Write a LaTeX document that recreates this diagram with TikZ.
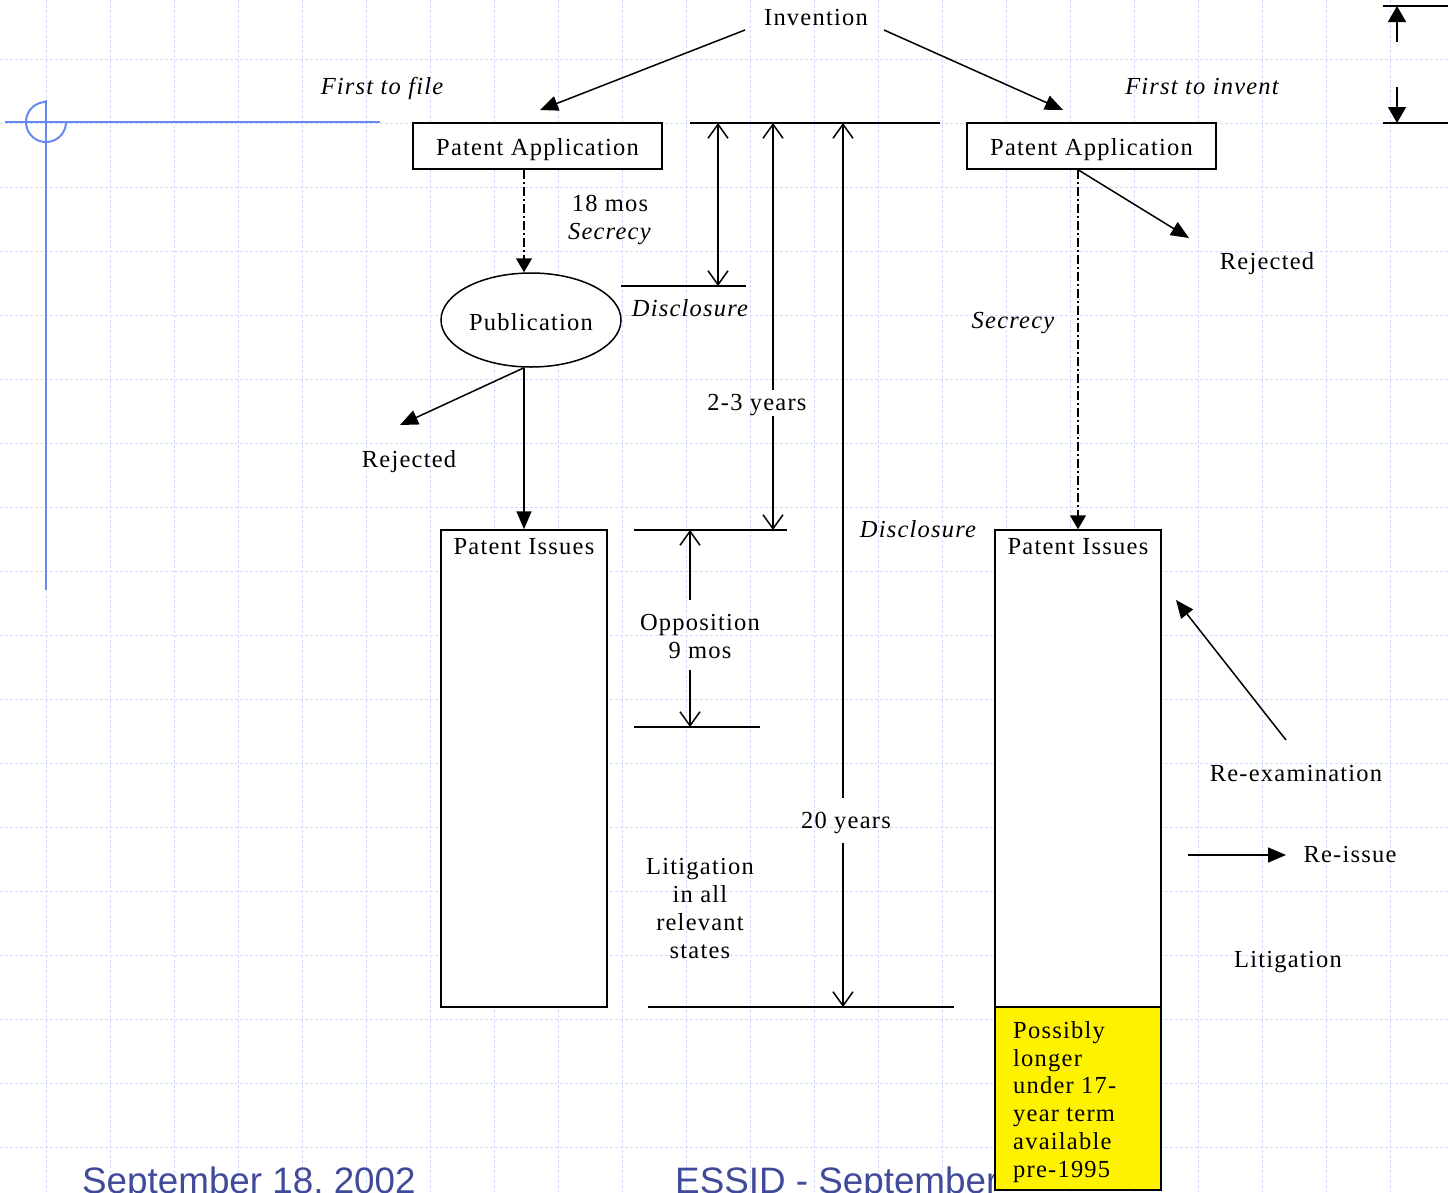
\documentclass[tikz,border=0pt]{standalone}
\usepackage{fontspec}
\setmainfont{Liberation Serif}[LetterSpace=5]
\newfontfamily\footfont{Liberation Sans}
\usetikzlibrary{arrows.meta,shapes.geometric}
\definecolor{gridc}{RGB}{210,219,250}
\definecolor{crossc}{RGB}{104,136,240}
\definecolor{footc}{RGB}{64,74,152}
\tikzset{vb/.tip={Straight Barb[length=14pt,width=20pt]}}
\begin{document}
\begin{tikzpicture}[x=1pt,y=-1pt,
  every node/.style={font=\fontsize{24.5}{28}\selectfont, inner sep=0pt},
  ln/.style={line width=1.5pt},
  gridline/.style={gridc, line width=0.9pt, dash pattern=on 3pt off 2pt},
  fa/.style={ln,-{Triangle[length=18pt,width=15pt]}},
  fb/.style={ln,-{Triangle[length=14pt,width=16pt]}},
  dashdot/.style={dash pattern=on 9pt off 3pt on 2pt off 3pt},
  box/.style={draw, ln, fill=white, minimum width=249pt, minimum height=46pt, text height=18pt, text depth=0pt},
  tallbox/.style={draw, ln, fill=white, minimum width=166pt, minimum height=477pt},
  lbl/.style={anchor=base},
  ilbl/.style={anchor=base, font=\fontsize{24.5}{28}\selectfont\itshape}
]
\useasboundingbox (0,0) rectangle (1448,1192);
\clip (0,0) rectangle (1448,1192);
% grid
\foreach \gx in {46,110,...,1446} \draw[gridline] (\gx,0) -- (\gx,1192);
\foreach \gy in {59.5,123.5,...,1190} \draw[gridline] (0,\gy) -- (1448,\gy);
% crosshair
\draw[crossc, line width=2pt] (5,122) -- (380,122);
\draw[crossc, line width=2pt] (46,100) -- (46,590);
\draw[crossc, line width=2pt] plot[domain=90:360, samples=50] ({46+20*cos(\x)}, {122-20*sin(\x)});
% footer
\node[anchor=base west, font=\footfont\fontsize{36.8}{40}\selectfont, text=footc] (date) at (82,1193) {September 18, 2002};
\node[anchor=base west, font=\footfont\fontsize{36.8}{40}\selectfont, text=footc] (essid) at (675,1193) {ESSID - September};

% top
\node[lbl] (inv) at (816,25) {Invention};
\node[ilbl] (ftf) at (382,94) {First to file};
\node[ilbl] (fti) at (1202,94) {First to invent};
\node[box] (pa1) at (537.5,146) {Patent Application};
\node[box] (pa2) at (1091.5,146) {Patent Application};
\coordinate (invL) at (745,30);
\coordinate (invR) at (884,30);
\coordinate (t1) at (540,110);
\coordinate (t2) at (1063,110);
\draw[fa] (invL) -- (t1);
\draw[fa] (invR) -- (t2);

% left column
\node[draw, ln, fill=white, ellipse, minimum width=180pt, minimum height=94pt, text height=20pt, text depth=0pt] (pub) at (531,320) {Publication};
\node[tallbox] (pi1) at (524,768.5) {};
\node[lbl] (pi1t) at (524,554) {Patent Issues};
\draw[fb, dashdot] (pa1.south -| pi1.north) -- (pub.north -| pi1.north);
\draw[fa] (pub.south -| pi1.north) -- (pi1.north);
\coordinate (rejL) at (400,425);
\draw[fa] (pub.south -| pi1.north) -- (rejL);
\node[lbl] (rej1) at (409,467) {Rejected};
\node[anchor=north, align=center] (mos18) at (610,195) {18 mos\\\textit{Secrecy}};

% timeline
\draw[ln] (690,123) -- (940,123);
\draw[ln] (621,286) -- (746,286);
\draw[ln] (634,530) -- (787,530);
\draw[ln] (634,727) -- (760,727);
\draw[ln] (648,1007) -- (954,1007);
\draw[ln, {vb}-{vb}] (718,123) -- (718,286);
\draw[ln, {vb}-] (773,123) -- (773,390);
\draw[ln, -{vb}] (773,416) -- (773,530);
\draw[ln, {vb}-] (843,123) -- (843,798);
\draw[ln, -{vb}] (843,843) -- (843,1007);
\draw[ln, {vb}-] (690,530) -- (690,600);
\draw[ln, -{vb}] (690,670) -- (690,727);
\node[ilbl] (disc1) at (690,316) {Disclosure};
\node[lbl] (y23) at (757,410) {2-3 years};
\node[ilbl] (disc2) at (918,537) {Disclosure};
\node[anchor=north, align=center] (opp) at (700,614) {Opposition\\9 mos};
\node[lbl] (y20) at (846,828) {20 years};
\node[anchor=north, align=center] (litall) at (700,858) {Litigation\\in all\\relevant\\states};

% right column
\node[tallbox] (pi2) at (1078,768.5) {};
\node[lbl] (pi2t) at (1078,554) {Patent Issues};
\node[draw, ln, fill=yellow, minimum width=166pt, minimum height=183pt] (yl) at (1078,1098.5) {};
\node[anchor=north west, align=left, font=\fontsize{24.5}{27.8}\selectfont] (ylt) at (1013,1021) {Possibly\\longer\\under 17-\\year term\\available\\pre-1995};
\draw[fb, dashdot] (pa2.south -| pi2.north) -- (pi2.north);
\coordinate (rejR) at (1189,238);
\draw[fa] (pa2.south -| pi2.north) -- (rejR);
\node[ilbl] (sec2) at (1013,328) {Secrecy};
\node[lbl] (rej2) at (1267,269) {Rejected};
\coordinate (reexS) at (1286,740);
\coordinate (reexT) at (1176,600);
\draw[fa] (reexS) -- (reexT);
\node[lbl] (reex) at (1296,781) {Re-examination};
\coordinate (riS) at (1188,855);
\coordinate (riT) at (1286,855);
\draw[fa] (riS) -- (riT);
\node[lbl] (reis) at (1350,862) {Re-issue};
\node[lbl] (lit2) at (1288,967) {Litigation};

% top-right dimension
\draw[line width=2pt] (1383,6) -- (1448,6);
\draw[line width=2pt] (1383,123) -- (1448,123);
\coordinate (d1) at (1397,42);
\coordinate (d2) at (1397,87);
\draw[ln,-{Triangle[length=16pt,width=18pt]}] (d1) -- (1397,6);
\draw[ln,-{Triangle[length=16pt,width=18pt]}] (d2) -- (1397,123);
\end{tikzpicture}
\end{document}
